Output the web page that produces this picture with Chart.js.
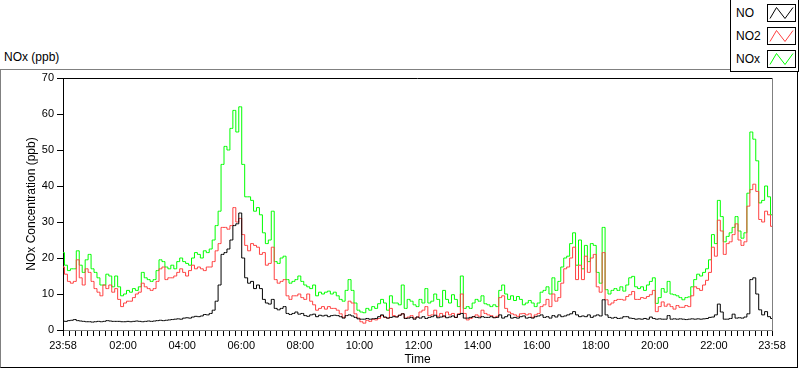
<!DOCTYPE html>
<html><head><meta charset="utf-8">
<script src="https://cdn.jsdelivr.net/npm/chart.js@4.4.1/dist/chart.umd.min.js"></script>
<style>
html,body{margin:0;padding:0;background:#fff;width:800px;height:369px;overflow:hidden;font-family:"Liberation Sans",Arial,sans-serif;color:#000;}
#frame{position:absolute;left:0;top:69px;width:798px;height:299px;box-sizing:border-box;border-top:1px solid #808080;border-left:1px solid #808080;border-right:1px solid #000;border-bottom:1px solid #000;}
#wrap{position:absolute;left:0;top:0;width:800px;height:369px;}
#plotLabel{position:absolute;left:4px;top:50px;font-size:12px;line-height:14px;}
#legend{position:absolute;left:730px;top:0;width:69px;height:72px;box-sizing:border-box;border-left:1px solid #000;border-right:1px solid #000;border-bottom:1px solid #000;background:#fff;}
.lrow{position:absolute;left:0;width:68px;height:18px;}
.lrow span{position:absolute;left:5px;top:2px;font-size:12px;line-height:14px;}
.lrow svg{position:absolute;left:36px;top:0;width:29px;height:18px;}
</style></head>
<body>
<div id="frame"></div>
<div id="plotLabel">NOx (ppb)</div>
<div id="wrap"><canvas id="c"></canvas></div>
<div id="legend"></div>
<script>
// ---- data (ppb), one sample every 6 minutes starting 23:58 ----
const sampleStepMinutes = 6;
const noValues = [
2.5,2.4,2.6,2.7,2.9,2.6,2.5,2.4,2.3,2.3, 2.2,2.3,2.4,2.3,2.4,2.6,2.5,2.4,2.4,2.4,
2.3,2.3,2.4,2.3,2.4,2.5,2.4,2.3,2.4,2.5, 2.4,2.5,2.6,2.7,2.6,2.7,2.8,2.9,3.0,3.1,
3.0,3.3,3.4,3.3,3.6,3.8,3.7,3.9,4.3,4.2,
4.6,5.5,8,12.5,21,21.5,22.5,25,29,29.5, 32.5,20,14.5,13,13.5,11.5,12.5,11.5,8.5,7.5,
7.2,8.5,6,5.6,6,6.5,4.6,4.3,4.6,5, 4.4,4.6,4,3.8,4.2,4.4,3.7,4.1,3.9,4.1,
3.7,4,4.1,4,3.7,3.3,4,4.2,
3.9,3.5,3.1,3.0,3.0,3.2,3.0,3.1,3.2,3.7, 4.2,3.6,3.3,3.5,3.7,3.6,4.1,4.5,3.2,3.3,
3.5,3.0,3.6,3.3,3.7,3.2,3.5,3.7,4.1,3.4, 3.6,3.9,3.4,3.6,3.9,3.5,4.3,4.6,3.3,3.3,
3.5,3.7,3.5,3.4,3.7,3.5,3.5,
3.7,3.4,3.5,4.2,3.3,3.7,4.2,3.3,3.5,3.3, 3.7,3.9,3.3,3.5,3.3,3.7,3.9,4.2,3.5,3.7,
3.3,4.0,3.6,4.2,3.7,3.9,4.2,4.5,5.1,4.2, 3.7,3.9,3.7,4.2,3.5,3.9,4.2,3.9,8.4,4.2,
3.5,3.3,3.5,3.2,3.3,3.7,3.7,
3.3,3.2,3.0,3.1,3.0,3.2,3.0,3.6,3.2,3.0, 3.1,3.0,3.0,4.0,3.0,3.1,3.0,3.1,3.0,2.9,
3.0,3.1,3.0,3.1,3.0,3.1,3.2,3.5,3.6,4.2, 7.2,5.0,3.0,3.0,3.2,4.4,3.3,3.4,3.3,3.6,
4.5,14,14.5,10,5.6,4.2,5.1,3.7,3.2
];
const no2Values = [
17.5,15.5,13.5,13,13.5,19.5,14.5,12.5,17,16, 13.5,11.5,10.5,9.5,12.5,11.5,12.5,10.5,11.5,8.5,
6.5,7.5,8,8,9,10,10.5,13,12,11.5, 11,11.5,13.5,17,17.5,14,14.5,14.5,15,16,
17,16,15,16.5,18,17,17.5,17,16.5,17.5,
17.5,19,22,24,28.5,28.5,28,29,34,30, 31,26.5,23.5,22,24,23.5,23,21,21.5,18,
18.5,23,14,13,13.5,14,9.5,8.5,9.5,9.5, 10,9,8.5,10,8,7,5.5,6,6.5,5.8,
6.5,6,6,5.5,4.5,3.5,5.5,8,
7.5,4.5,3.3,2.3,1.9,2.7,2.4,3,2.8,3.2, 4,3.5,3.3,6,4,3.7,4.1,4.5,3.3,3.6,
4,3.3,3.6,5,5.5,6.5,4,4.2,5.5,3.8, 4.6,3.7,5,4.2,4.6,3.5,4.5,10,4.6,2.8,
3.2,3.7,4.2,3.8,5.5,4.6,4.2,
4,3.5,3.8,9,9.5,6,5,4.5,4.2,3.8, 4.5,4.6,4.2,4.5,3.5,4.2,4.6,6.5,7,8.5,
6.5,10,8,9,13,17,17.5,20,23,14, 18,14,20.5,16,20,21,12,10.5,21.5,8.4,
7,7.5,8.2,8.5,8.5,8.3,9.3,
9.8,10.7,8.5,8.5,9,8.8,9.3,9.8,11,5.1, 6.5,7.8,6.6,7.2,6.5,5.8,6.8,6.3,6.3,6.8,
6.5,9.5,12,11.5,11,12.5,13.8,16,23,20.5, 30.5,27.5,21,24,24.5,26.5,29.5,25,23.5,24.5,
34.4,39,40.5,38.5,30.7,30,33,32,28.8
];
const noxValues = [
21.5,18,16.5,17,17,22,18,16,19.5,21, 17,16,14.5,12.5,12.5,15.5,15,12,15,12,
9.5,10,11,10.5,11.5,11,12,16,14.5,14, 13.5,14,16.5,19.5,19,17.5,17,18,17,19,
20,19,18.5,18,20,21.5,21,20,22,21.5,
22.5,25,29,33,46,51,50,56,61,55, 62,46,37,37,36,33,34,32,27,24,
25,33,19,18.5,20,20.5,14,13,13.5,14, 15,13.5,12.5,12,11.5,12.5,9.5,10.5,10,10.5,
10.8,10,10.5,9.5,8.5,8,11,14,
11,7.5,5.5,5,4.8,6,5.5,6.5,6,7.3, 8.5,7.5,5.5,9.5,7.5,7.5,7,12.5,6,8.5,
8,7,6.5,8.5,7.5,11.5,7.5,8,10,8.5, 6.5,11,8.5,7.5,9.8,8.5,6.5,15,6,6.5,
6,7.5,8.5,8,9.5,7.3,7,
6.5,7,6.5,11,12.5,10,8.5,9.5,8.2,9.3, 8.5,7,7.5,8.2,7.5,6.5,7.5,10.5,11,12,
10,14.5,11,13.5,17.5,20,20.5,24,27,18, 25,17,23.5,19,24,23.5,16,13,28.5,11.2,
10,11,11.5,11,12,10.8,12.5,
14.5,14.9,12,11.5,12,11,12.5,13.5,14.5,7.4, 9,11.5,10.5,13.5,10,9.8,9.5,9,8.4,9,
9.2,12,14,15.5,15,16,17,19.5,26.5,24, 36,31.5,24.5,26,27,28.5,31.5,27.5,25.5,27,
38,55,53,47,35.3,36,40,37,32
];
const seriesNames = ['NO','NO2','NOx'];
const seriesColors = ['#000000','#ff4040','#00ff00'];

// ---- axis ticks (minutes after 23:58) ----
const tickMinutes = [0,122,242,362,482,602,722,842,962,1082,1202,1322,1440];
const tickLabels = ['23:58','02:00','04:00','06:00','08:00','10:00','12:00','14:00','16:00','18:00','20:00','22:00','23:58'];
const minorTickMinutes = [];
for (let m = 2; m < 1440; m += 12) minorTickMinutes.push(m);
const yTicks = [0,10,20,30,40,50,60,70];

const FONT = '"Liberation Sans", Arial, sans-serif';
const toPoints = arr => arr.map((v, i) => ({x: i * sampleStepMinutes, y: v}));
const allTicks = Array.from(new Set(tickMinutes.concat(minorTickMinutes))).sort((a,b)=>a-b);

// legend (HTML)
const legendEl = document.getElementById('legend');
const rowTops = [4, 27, 50];
seriesNames.forEach((name, i) => {
  const row = document.createElement('div');
  row.className = 'lrow';
  row.style.top = rowTops[i] + 'px';
  row.innerHTML = '<span>' + name + '</span>' +
    '<svg viewBox="0 0 29 18"><rect x="0.5" y="0.5" width="28" height="17" fill="#fff" stroke="#000"/>' +
    '<polyline points="3,14.5 9.5,3.5 18,14.5 26,3.5" fill="none" stroke="' + seriesColors[i] + '" stroke-width="1"/></svg>';
  legendEl.appendChild(row);
});

const plotFrame = {
  id: 'plotFrame',
  afterDraw(chart) {
    const {ctx, chartArea: {left, top, right, bottom}} = chart;
    ctx.save();
    ctx.lineWidth = 1;
    ctx.strokeStyle = '#000';
    ctx.beginPath(); ctx.moveTo(left, top + 0.5); ctx.lineTo(right, top + 0.5); ctx.stroke();
    ctx.strokeStyle = '#808080';
    ctx.beginPath(); ctx.moveTo(right + 0.5, top); ctx.lineTo(right + 0.5, bottom + 1); ctx.stroke();
    ctx.restore();
  }
};

const valueSets = [noValues, no2Values, noxValues];
new Chart(document.getElementById('c'), {
  type: 'line',
  data: {
    datasets: seriesNames.map((name, i) => ({
      label: name,
      data: toPoints(valueSets[i]),
      borderColor: seriesColors[i],
      borderWidth: 1,
      pointRadius: 0,
      stepped: 'middle',
      fill: false,
      order: i
    }))
  },
  options: {
    responsive: true,
    maintainAspectRatio: false,
    animation: false,
    layout: {padding: {top: 78, right: 28, left: 0, bottom: 0}},
    plugins: {legend: {display: false}, tooltip: {enabled: false}},
    scales: {
      x: {
        type: 'linear', min: 0, max: 1440,
        afterBuildTicks: s => { s.ticks = allTicks.map(v => ({value: v})); },
        afterFit: s => { s.height = 39; },
        ticks: {
          autoSkip: false, maxRotation: 0, minRotation: 0, color: '#000', padding: 3,
          font: {family: FONT, size: 11},
          callback: v => { const i = tickMinutes.indexOf(v); return i >= 0 ? tickLabels[i] : ''; }
        },
        grid: {drawOnChartArea: false, drawTicks: true, tickLength: 6, color: '#000'},
        border: {display: true, color: '#808080', width: 1},
        title: {display: true, text: 'Time', color: '#000', font: {family: FONT, size: 12}, padding: {top: 2, bottom: 2}}
      },
      y: {
        min: 0, max: 70,
        afterBuildTicks: s => { s.ticks = yTicks.map(v => ({value: v})); },
        afterFit: s => { s.width = 63; },
        ticks: {color: '#000', padding: 3, font: {family: FONT, size: 11}},
        grid: {drawOnChartArea: false, drawTicks: true, tickLength: 6, color: '#000'},
        border: {display: true, color: '#000', width: 1},
        title: {display: true, text: 'NOx Concentration (ppb)', color: '#000', font: {family: FONT, size: 12}, padding: {top: 24, bottom: 0}}
      }
    }
  },
  plugins: [plotFrame]
});
</script>
</body></html>
